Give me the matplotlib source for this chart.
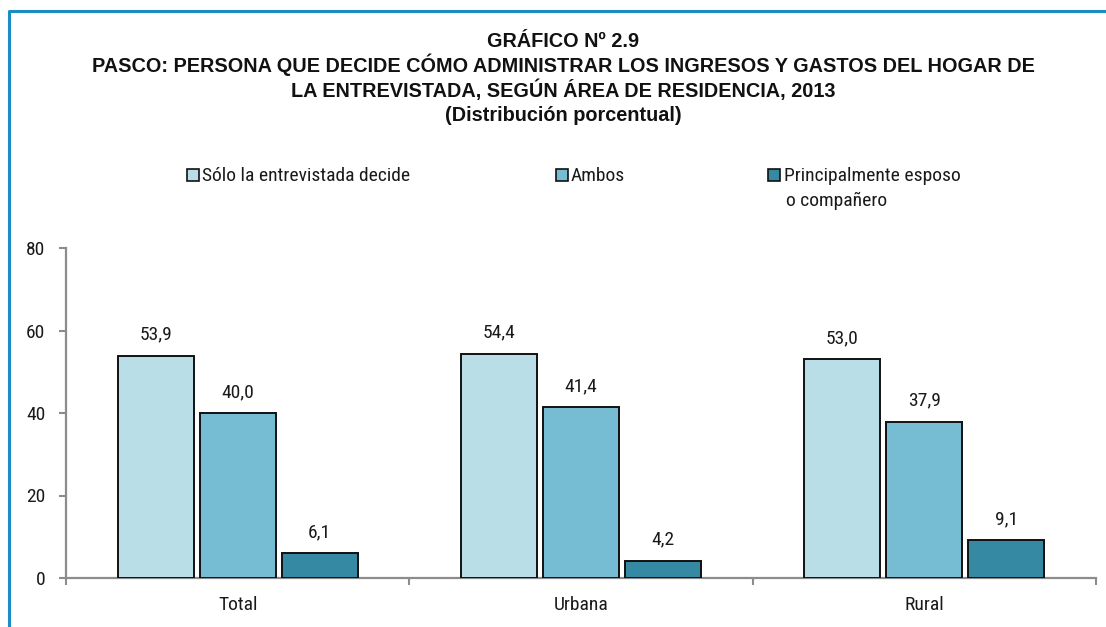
import matplotlib
matplotlib.use("Agg")
import matplotlib.pyplot as plt
import numpy as np
from matplotlib.lines import Line2D
from matplotlib.patches import Rectangle

plt.rcParams['font.family'] = ['Roboto Condensed', 'Liberation Sans', 'DejaVu Sans']

categories = ["Total", "Urbana", "Rural"]
series_names = ["Sólo la entrevistada decide", "Ambos", "Principalmente esposo"]
series_name_cont = "o compañero"
solo = [53.9, 54.4, 53.0]
ambos = [40.0, 41.4, 37.9]
esposo = [6.1, 4.2, 9.1]
colors = ["#B9DEE8", "#76BDD3", "#3589A3"]
yticks = [0, 20, 40, 60, 80]

W, H = 1106, 627
FS = 14
TXT = "#1a1a1a"
fig = plt.figure(figsize=(W / 100, H / 100), dpi=100)

def fx(px):
    return px / W

def fy(py):
    return 1 - py / H

# figure border
fig.add_artist(Line2D([fx(8.5), fx(8.5), 1.0], [0, fy(11), fy(11)],
                      transform=fig.transFigure, color="#1A8CC6", lw=2.2))

ax = fig.add_axes([fx(66), fy(578), (1096 - 66) / W, (578 - 248) / H])

x = np.arange(len(categories))
bw = 0.221
step = 0.239
for i, (vals, c) in enumerate(zip([solo, ambos, esposo], colors)):
    pos = x + (i - 1) * step
    ax.bar(pos, vals, width=bw, color=c, edgecolor="#111111", linewidth=1.4, zorder=3)
    for p, v in zip(pos, vals):
        ax.annotate(f"{v:.1f}".replace(".", ","), xy=(p, v), xytext=(0, 11.5),
                    textcoords="offset points", ha="center", va="baseline",
                    fontsize=FS, color=TXT)

ax.set_xlim(-0.5, 2.5)
ax.set_ylim(0, 80)
ax.set_yticks(yticks)
ax.set_yticklabels([str(t) for t in yticks], fontsize=FS, color=TXT)
ax.set_xticks([-0.5, 0.5, 1.5, 2.5])
ax.set_xticklabels([])
ax.tick_params(axis="x", length=5, color="#8c8c8c", width=1.5, direction="out")
ax.tick_params(axis="y", length=5, color="#8c8c8c", width=1.5, pad=10)
for i, cat in enumerate(categories):
    ax.annotate(cat, xy=(i, 0), xycoords=("data", "axes fraction"),
                xytext=(0, -23), textcoords="offset points",
                ha="center", va="baseline", fontsize=FS, color=TXT)
for s in ["top", "right"]:
    ax.spines[s].set_visible(False)
for s in ["left", "bottom"]:
    ax.spines[s].set_color("#8c8c8c")
    ax.spines[s].set_linewidth(1.6)

# title
title_lines = ["GRÁFICO Nº 2.9",
               "PASCO: PERSONA QUE DECIDE CÓMO ADMINISTRAR LOS INGRESOS Y GASTOS DEL HOGAR DE",
               "LA ENTREVISTADA, SEGÚN ÁREA DE RESIDENCIA, 2013",
               "(Distribución porcentual)"]
for line, yy in zip(title_lines, [47, 72, 97, 121]):
    fig.text(fx(563), fy(yy), line, ha="center", va="baseline", fontsize=14.3,
             fontweight="bold", color="#111111", family=["Liberation Sans", "DejaVu Sans"])

# legend
marker_x = [187, 556, 768]
text_x = [202, 571, 784]
for mx, tx, c, name in zip(marker_x, text_x, colors, series_names):
    fig.add_artist(Rectangle((fx(mx), fy(181)), 12 / W, 12 / H,
                             transform=fig.transFigure, facecolor=c,
                             edgecolor="#111111", lw=1.2))
    fig.text(fx(tx), fy(181), name, ha="left", va="baseline", fontsize=FS, color=TXT)
fig.text(fx(786), fy(206), series_name_cont, ha="left", va="baseline", fontsize=FS, color=TXT)

fig.savefig("out.png", dpi=100)
